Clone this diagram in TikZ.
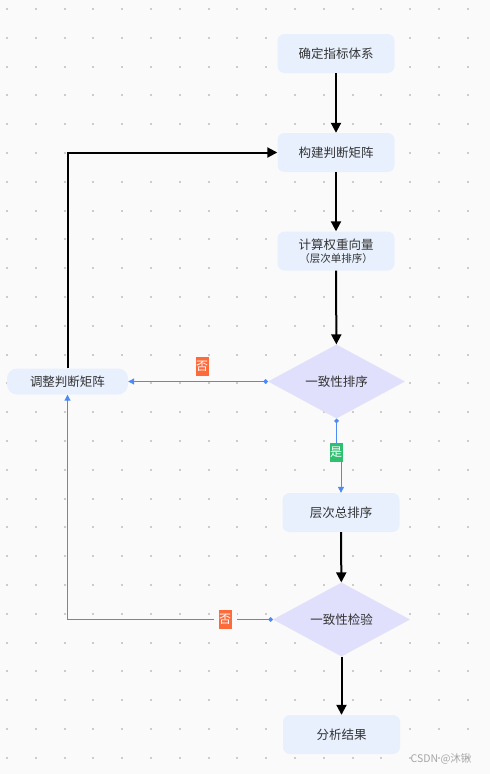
\documentclass[tikz,border=0pt]{standalone}
\usepackage{fontspec}
\setmainfont{Noto Sans CJK SC}
\usetikzlibrary{shapes.geometric,arrows.meta}
\definecolor{bgc}{HTML}{FAFAFA}
\definecolor{dotc}{HTML}{CCCCCC}
\definecolor{boxc}{HTML}{E8F0FE}
\definecolor{diac}{HTML}{E0E0FC}
\definecolor{bluc}{HTML}{4C8BF5}
\definecolor{noc}{HTML}{FF6A3B}
\definecolor{yesc}{HTML}{2FBF71}
\definecolor{txtc}{HTML}{333333}
\tikzset{
  stepbox/.style={rectangle, rounded corners=7, fill=boxc, draw=none, minimum width=117, minimum height=39, inner sep=0, text=txtc, font=\fontsize{12.5}{15}\selectfont, align=center},
  decision/.style={diamond, fill=diac, draw=none, minimum width=137, minimum height=74, inner sep=0, aspect=1.85, text=txtc, font=\fontsize{12.5}{15}\selectfont},
  blk/.style={line width=2, black, -{Triangle[length=10,width=10]}},
  blu/.style={line width=1, bluc, {Circle[length=4.5]}-{Triangle[length=6,width=6]}},
  lab/.style={rectangle, minimum width=13, minimum height=19, inner sep=0, text=white, font=\fontsize{12}{13}\selectfont}
}
\begin{document}
\begin{tikzpicture}[x=1pt,y=-1pt]
\fill[bgc] (0,0) rectangle (490,774);
\useasboundingbox (0,0) rectangle (490,774);
\foreach \i in {0,...,16}{
  \foreach \j in {0,...,26}{
    \fill[dotc] ({7+28.8*\i-1},{9+28.8*\j-1}) rectangle ++(2,2);
  }
}
\node[stepbox] (n1) at (336,53.5) {确定指标体系};
\node[stepbox] (n2) at (336,152.5) {构建判断矩阵};
\node[stepbox] (n3) at (336,251) {计算权重向量\\[-2pt]{\fontsize{10.5}{12}\selectfont （层次单排序）}};
\node[decision] (d1) at (336.5,381.5) {一致性排序};
\node[stepbox, minimum width=121, minimum height=26, rounded corners=10] (n5) at (67.5,381.5) {调整判断矩阵};
\node[stepbox] (n6) at (341,512.5) {层次总排序};
\node[decision] (d2) at (341.5,619.5) {一致性检验};
\node[stepbox] (n8) at (341.5,734.5) {分析结果};

\draw[blk] (n1) -- (n2);
\draw[blk] (n2) -- (n3);
\draw[blk] (n3) -- (d1);
\draw[blk] (n6) -- (d2);
\draw[blk] (d2) -- (n8);
\draw[blk] (n5.north) |- (n2.west);

\draw[blu] (d1.west) -- (n5.east);
\node[lab, fill=noc] (l1) at (202,366) {否};

\node[lab, fill=yesc] (l2) at (336,452) {是};
\draw[blu] (d1.south) -- (l2.center -| d1.south) -- (l2.center -| n6.north) -- (n6.north);
\node[lab, fill=yesc] at (l2) {是};

\draw[blu] (d2.west) -- (d2.west -| n5.south) -- (n5.south);
\node[lab, fill=noc, draw=bgc, line width=10] (l3) at (225,619.5) {否};
\node[lab, fill=noc] at (l3) {否};

\node[anchor=east, text=gray!70, font=\fontsize{10.5}{12}\selectfont] (wm) at (475,759) {CSDN @沐锹};
\end{tikzpicture}
\end{document}
